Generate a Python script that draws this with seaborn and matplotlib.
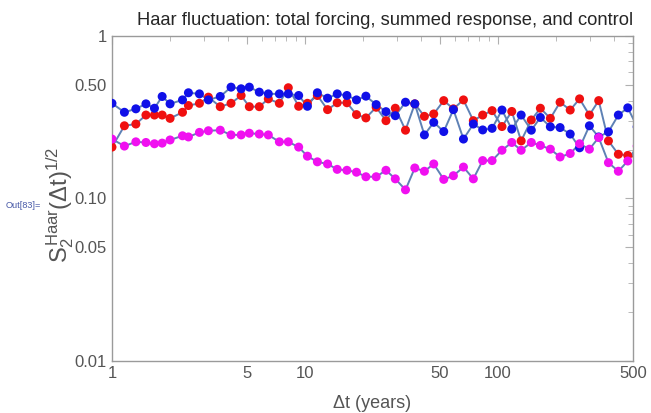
import pandas as pd
import seaborn as sns
import matplotlib.pyplot as plt
from matplotlib.ticker import FixedLocator, FixedFormatter, LogLocator, NullFormatter

# Δt values (years)
dt = [1.0, 1.16, 1.33, 1.5, 1.66, 1.82, 2.0, 2.32, 2.49, 2.84, 3.16, 3.64, 4.14, 4.67,
      5.15, 5.8, 6.46, 7.37, 8.2, 9.28, 10.3, 11.6, 13.1, 14.7, 16.5, 18.5, 20.7, 23.4,
      26.3, 29.4, 33.2, 37.1, 41.6, 46.5, 52.4, 58.8, 66.3, 74.6, 83.4, 93.3, 105, 118,
      132, 149, 166, 187, 210, 237, 265, 298, 333, 374, 421, 471, 527]

# total forcing (red)
forcing = [0.207, 0.28, 0.287, 0.326, 0.326, 0.326, 0.311, 0.339, 0.373, 0.385, 0.42,
           0.367, 0.385, 0.43, 0.367, 0.367, 0.41, 0.385, 0.48, 0.369, 0.385, 0.43,
           0.352, 0.388, 0.388, 0.328, 0.313, 0.364, 0.301, 0.359, 0.263, 0.382, 0.32,
           0.331, 0.40, 0.356, 0.404, 0.301, 0.326, 0.347, 0.277, 0.343, 0.226, 0.304,
           0.359, 0.311, 0.391, 0.35, 0.41, 0.326, 0.40, 0.226, 0.187, 0.184, 0.18]

# summed response (blue)
response = [0.385, 0.339, 0.356, 0.382, 0.359, 0.424, 0.382, 0.404, 0.447, 0.44, 0.404,
            0.424, 0.484, 0.473, 0.484, 0.451, 0.44, 0.44, 0.44, 0.43, 0.369, 0.447,
            0.414, 0.44, 0.43, 0.404, 0.426, 0.378, 0.342, 0.323, 0.391, 0.382, 0.246,
            0.294, 0.258, 0.352, 0.232, 0.287, 0.264, 0.27, 0.35, 0.267, 0.326, 0.263,
            0.315, 0.276, 0.273, 0.249, 0.205, 0.28, 0.239, 0.257, 0.326, 0.361, 0.276]

# control (magenta)
control = [0.232, 0.21, 0.223, 0.221, 0.217, 0.219, 0.229, 0.243, 0.239, 0.255, 0.261,
           0.263, 0.246, 0.246, 0.252, 0.249, 0.246, 0.223, 0.223, 0.207, 0.182, 0.168,
           0.163, 0.151, 0.149, 0.145, 0.136, 0.136, 0.149, 0.132, 0.113, 0.154, 0.147,
           0.163, 0.131, 0.138, 0.156, 0.132, 0.171, 0.171, 0.198, 0.221, 0.198, 0.221,
           0.212, 0.201, 0.18, 0.189, 0.217, 0.201, 0.237, 0.166, 0.147, 0.17, 0.21]

df = pd.DataFrame({
    "dt": dt * 3,
    "S": forcing + response + control,
    "series": ["forcing"] * len(dt) + ["response"] * len(dt) + ["control"] * len(dt),
})

sns.set_style("white")
plt.rcParams["font.family"] = ["Liberation Sans", "DejaVu Sans"]
plt.rcParams["mathtext.fontset"] = "custom"
plt.rcParams["mathtext.rm"] = "Liberation Sans"
plt.rcParams["mathtext.it"] = "Liberation Sans"

fig = plt.figure(figsize=(6.51, 4.13), dpi=100)
ax = fig.add_axes([0.172, 0.126, 0.8, 0.787])

sns.lineplot(data=df, x="dt", y="S", units="series", estimator=None, sort=False,
             color="#5E81B5", lw=1.4, ax=ax, legend=False)
sns.scatterplot(data=df, x="dt", y="S", hue="series",
                palette={"forcing": "#F01010", "response": "#1010E8", "control": "#F010F0"},
                s=42, linewidth=0, legend=False, ax=ax, zorder=3)

ax.set_xscale("log")
ax.set_yscale("log")
ax.set_xlim(1, 500)
ax.set_ylim(0.01, 1)

grey = "#9a9a9a"
ax.xaxis.set_major_locator(FixedLocator([1, 5, 10, 50, 100, 500]))
ax.xaxis.set_major_formatter(FixedFormatter(["1", "5", "10", "50", "100", "500"]))
ax.yaxis.set_major_locator(FixedLocator([0.01, 0.05, 0.1, 0.5, 1]))
ax.yaxis.set_major_formatter(FixedFormatter(["0.01", "0.05", "0.10", "0.50", "1"]))
ax.xaxis.set_minor_locator(LogLocator(subs=range(2, 10)))
ax.yaxis.set_minor_locator(LogLocator(subs=range(2, 10)))
ax.xaxis.set_minor_formatter(NullFormatter())
ax.yaxis.set_minor_formatter(NullFormatter())
ax.tick_params(which="both", direction="in", top=True, right=True, color="#b0b0b0",
               labelcolor="#555555", labelsize=12)
ax.tick_params(which="major", length=6, width=0.8)
ax.tick_params(which="minor", length=3.5, width=0.6)
for s in ax.spines.values():
    s.set_color(grey)
    s.set_linewidth(1.0)

ax.set_title("Haar fluctuation: total forcing, summed response, and control",
             fontsize=13.2, pad=8, x=0.525)
ax.set_xlabel(r"Δt (years)", fontsize=13, color="#555555")
ax.set_ylabel(r"$S_2^{\mathrm{Haar}}(\Delta t)^{1/2}$", fontsize=17, color="#555555")
ax.xaxis.set_label_coords(0.5, -0.105)
ax.yaxis.set_label_coords(-0.069, 0.48)

fig.text(0.008, 1 - 206 / 413, "Out[83]=", fontsize=6.6, color="#4a5ba8", va="center")

fig.savefig("out.png", dpi=100)
